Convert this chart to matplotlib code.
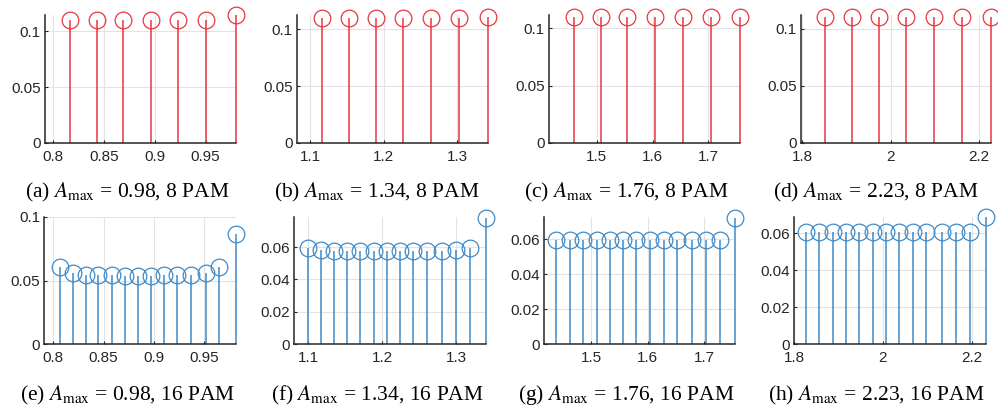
import matplotlib
matplotlib.use("Agg")
import matplotlib.pyplot as plt

plt.rcParams["font.family"] = "Liberation Sans"
plt.rcParams["mathtext.fontset"] = "stix"

RED = "#e8363f"
BLUE = "#3f8ac8"

# 8 PAM (top row)
a_x = [0.817, 0.843, 0.869, 0.896, 0.923, 0.950, 0.980]
a_y = [0.110, 0.110, 0.110, 0.110, 0.110, 0.110, 0.1143]
b_x = [1.117, 1.153, 1.190, 1.227, 1.265, 1.303, 1.342]
b_y = [0.1097, 0.1097, 0.1097, 0.1097, 0.1097, 0.1097, 0.1112]
c_x = [1.459, 1.507, 1.555, 1.604, 1.654, 1.704, 1.756]
c_y = [0.1102, 0.1102, 0.1102, 0.1102, 0.1102, 0.1102, 0.1102]
d_x = [1.852, 1.912, 1.973, 2.035, 2.098, 2.162, 2.227]
d_y = [0.1105, 0.1105, 0.1105, 0.1105, 0.1105, 0.1105, 0.1105]

# 16 PAM (bottom row)
e_x = [0.807, 0.820, 0.833, 0.845, 0.858, 0.871, 0.884, 0.897, 0.910,
       0.923, 0.937, 0.952, 0.965, 0.982]
e_y = [0.0604, 0.0556, 0.0546, 0.0542, 0.0540, 0.0539, 0.0539, 0.0539,
       0.0540, 0.0542, 0.0546, 0.0556, 0.0604, 0.0862]
f_x = [1.100, 1.117, 1.135, 1.152, 1.170, 1.189, 1.206, 1.224, 1.242,
       1.260, 1.280, 1.300, 1.318, 1.340]
f_y = [0.0592, 0.0580, 0.0578, 0.0577, 0.0577, 0.0577, 0.0577, 0.0577,
       0.0577, 0.0577, 0.0578, 0.0580, 0.0592, 0.0777]
g_x = [1.439, 1.463, 1.486, 1.510, 1.533, 1.557, 1.580, 1.604, 1.629,
       1.652, 1.678, 1.702, 1.727, 1.754]
g_y = [0.0598, 0.0597, 0.0597, 0.0597, 0.0597, 0.0597, 0.0597, 0.0597,
       0.0597, 0.0597, 0.0597, 0.0597, 0.0598, 0.0720]
h_x = [1.828, 1.857, 1.887, 1.917, 1.947, 1.977, 2.007, 2.037, 2.068,
       2.098, 2.132, 2.165, 2.197, 2.232]
h_y = [0.0606, 0.0605, 0.0605, 0.0605, 0.0605, 0.0605, 0.0605, 0.0605,
       0.0605, 0.0605, 0.0605, 0.0605, 0.0606, 0.0688]

captions = [
    r"(a) $A_{\mathrm{max}}$ = 0.98, 8 PAM", r"(b) $A_{\mathrm{max}}$ = 1.34, 8 PAM",
    r"(c) $A_{\mathrm{max}}$ = 1.76, 8 PAM", r"(d) $A_{\mathrm{max}}$ = 2.23, 8 PAM",
    r"(e) $A_{\mathrm{max}}$ = 0.98, 16 PAM", r"(f) $A_{\mathrm{max}}$ = 1.34, 16 PAM",
    r"(g) $A_{\mathrm{max}}$ = 1.76, 16 PAM", r"(h) $A_{\mathrm{max}}$ = 2.23, 16 PAM",
]

xticks_sets = [[0.8, 0.85, 0.9, 0.95], [1.1, 1.2, 1.3], [1.5, 1.6, 1.7], [1.8, 2.0, 2.2]]
xtick_labels = [["0.8", "0.85", "0.9", "0.95"], ["1.1", "1.2", "1.3"],
                ["1.5", "1.6", "1.7"], ["1.8", "2", "2.2"]]

# panel data, limits, colour
panels = [
    (a_x, a_y, (0.792, 0.980), 0.1143, RED, 0),
    (b_x, b_y, (1.082, 1.342), 0.1126, RED, 1),
    (c_x, c_y, (1.4146, 1.756), 0.1116, RED, 2),
    (d_x, d_y, (1.796, 2.227), 0.1120, RED, 3),
    (e_x, e_y, (0.791, 0.982), 0.1000, BLUE, 0),
    (f_x, f_y, (1.081, 1.340), 0.0787, BLUE, 1),
    (g_x, g_y, (1.417, 1.754), 0.0730, BLUE, 2),
    (h_x, h_y, (1.800, 2.232), 0.0690, BLUE, 3),
]

# axes boxes in pixels: left, right, top, bottom
W, H = 998, 407
boxes = [
    (45, 236, 15, 143), (296.7, 488, 15, 143), (549, 739.7, 15, 143), (800.7, 990.7, 15, 143),
    (44.3, 236, 216.7, 344.3), (294.3, 486, 216.7, 344.3), (544, 735, 216.7, 344.3), (794, 986, 216.7, 344.3),
]

fig = plt.figure(figsize=(W / 100, H / 100), dpi=100)

for i, ((x, y, xl, ytop, col, col_idx), (l, r, t, b)) in enumerate(zip(panels, boxes)):
    ax = fig.add_axes([l / W, 1 - b / H, (r - l) / W, (b - t) / H])
    ml, sl, bl = ax.stem(x, y, linefmt="-", markerfmt="o", basefmt=" ")
    plt.setp(sl, color=col, linewidth=1.1, clip_on=False)
    plt.setp(ml, color=col, markerfacecolor="none", markersize=12,
             markeredgewidth=0.9, clip_on=False)
    ax.set_xlim(*xl)
    ax.set_ylim(0, ytop)
    ax.set_xticks(xticks_sets[col_idx])
    ax.set_xticklabels(xtick_labels[col_idx])
    if i <= 4:
        ax.set_yticks([0, 0.05, 0.1])
        ax.set_yticklabels(["0", "0.05", "0.1"])
    else:
        ax.set_yticks([0, 0.02, 0.04, 0.06])
        ax.set_yticklabels(["0", "0.02", "0.04", "0.06"])
    ax.grid(True, color="#e3e3e3", linewidth=0.8)
    ax.set_axisbelow(True)
    for s in ("top", "right"):
        ax.spines[s].set_visible(False)
    for s in ("left", "bottom"):
        ax.spines[s].set_color("#262626")
        ax.spines[s].set_linewidth(1.1)
    ax.tick_params(direction="in", length=2.5, width=0.8, color="#262626",
                   labelsize=11, labelcolor="#262626")
    ax.tick_params(axis="x", pad=5)
    ax.tick_params(axis="y", pad=3)

    # caption under each panel, centred on its quarter of the figure
    cx = [124.75, 374.25, 623.75, 873.25][col_idx] + 3
    base = 197.5 if i < 4 else 400
    fig.text(cx / W, 1 - base / H, captions[i], ha="center", va="baseline",
             fontsize=15.5, family="Liberation Serif")

fig.savefig("out.png", dpi=100)
